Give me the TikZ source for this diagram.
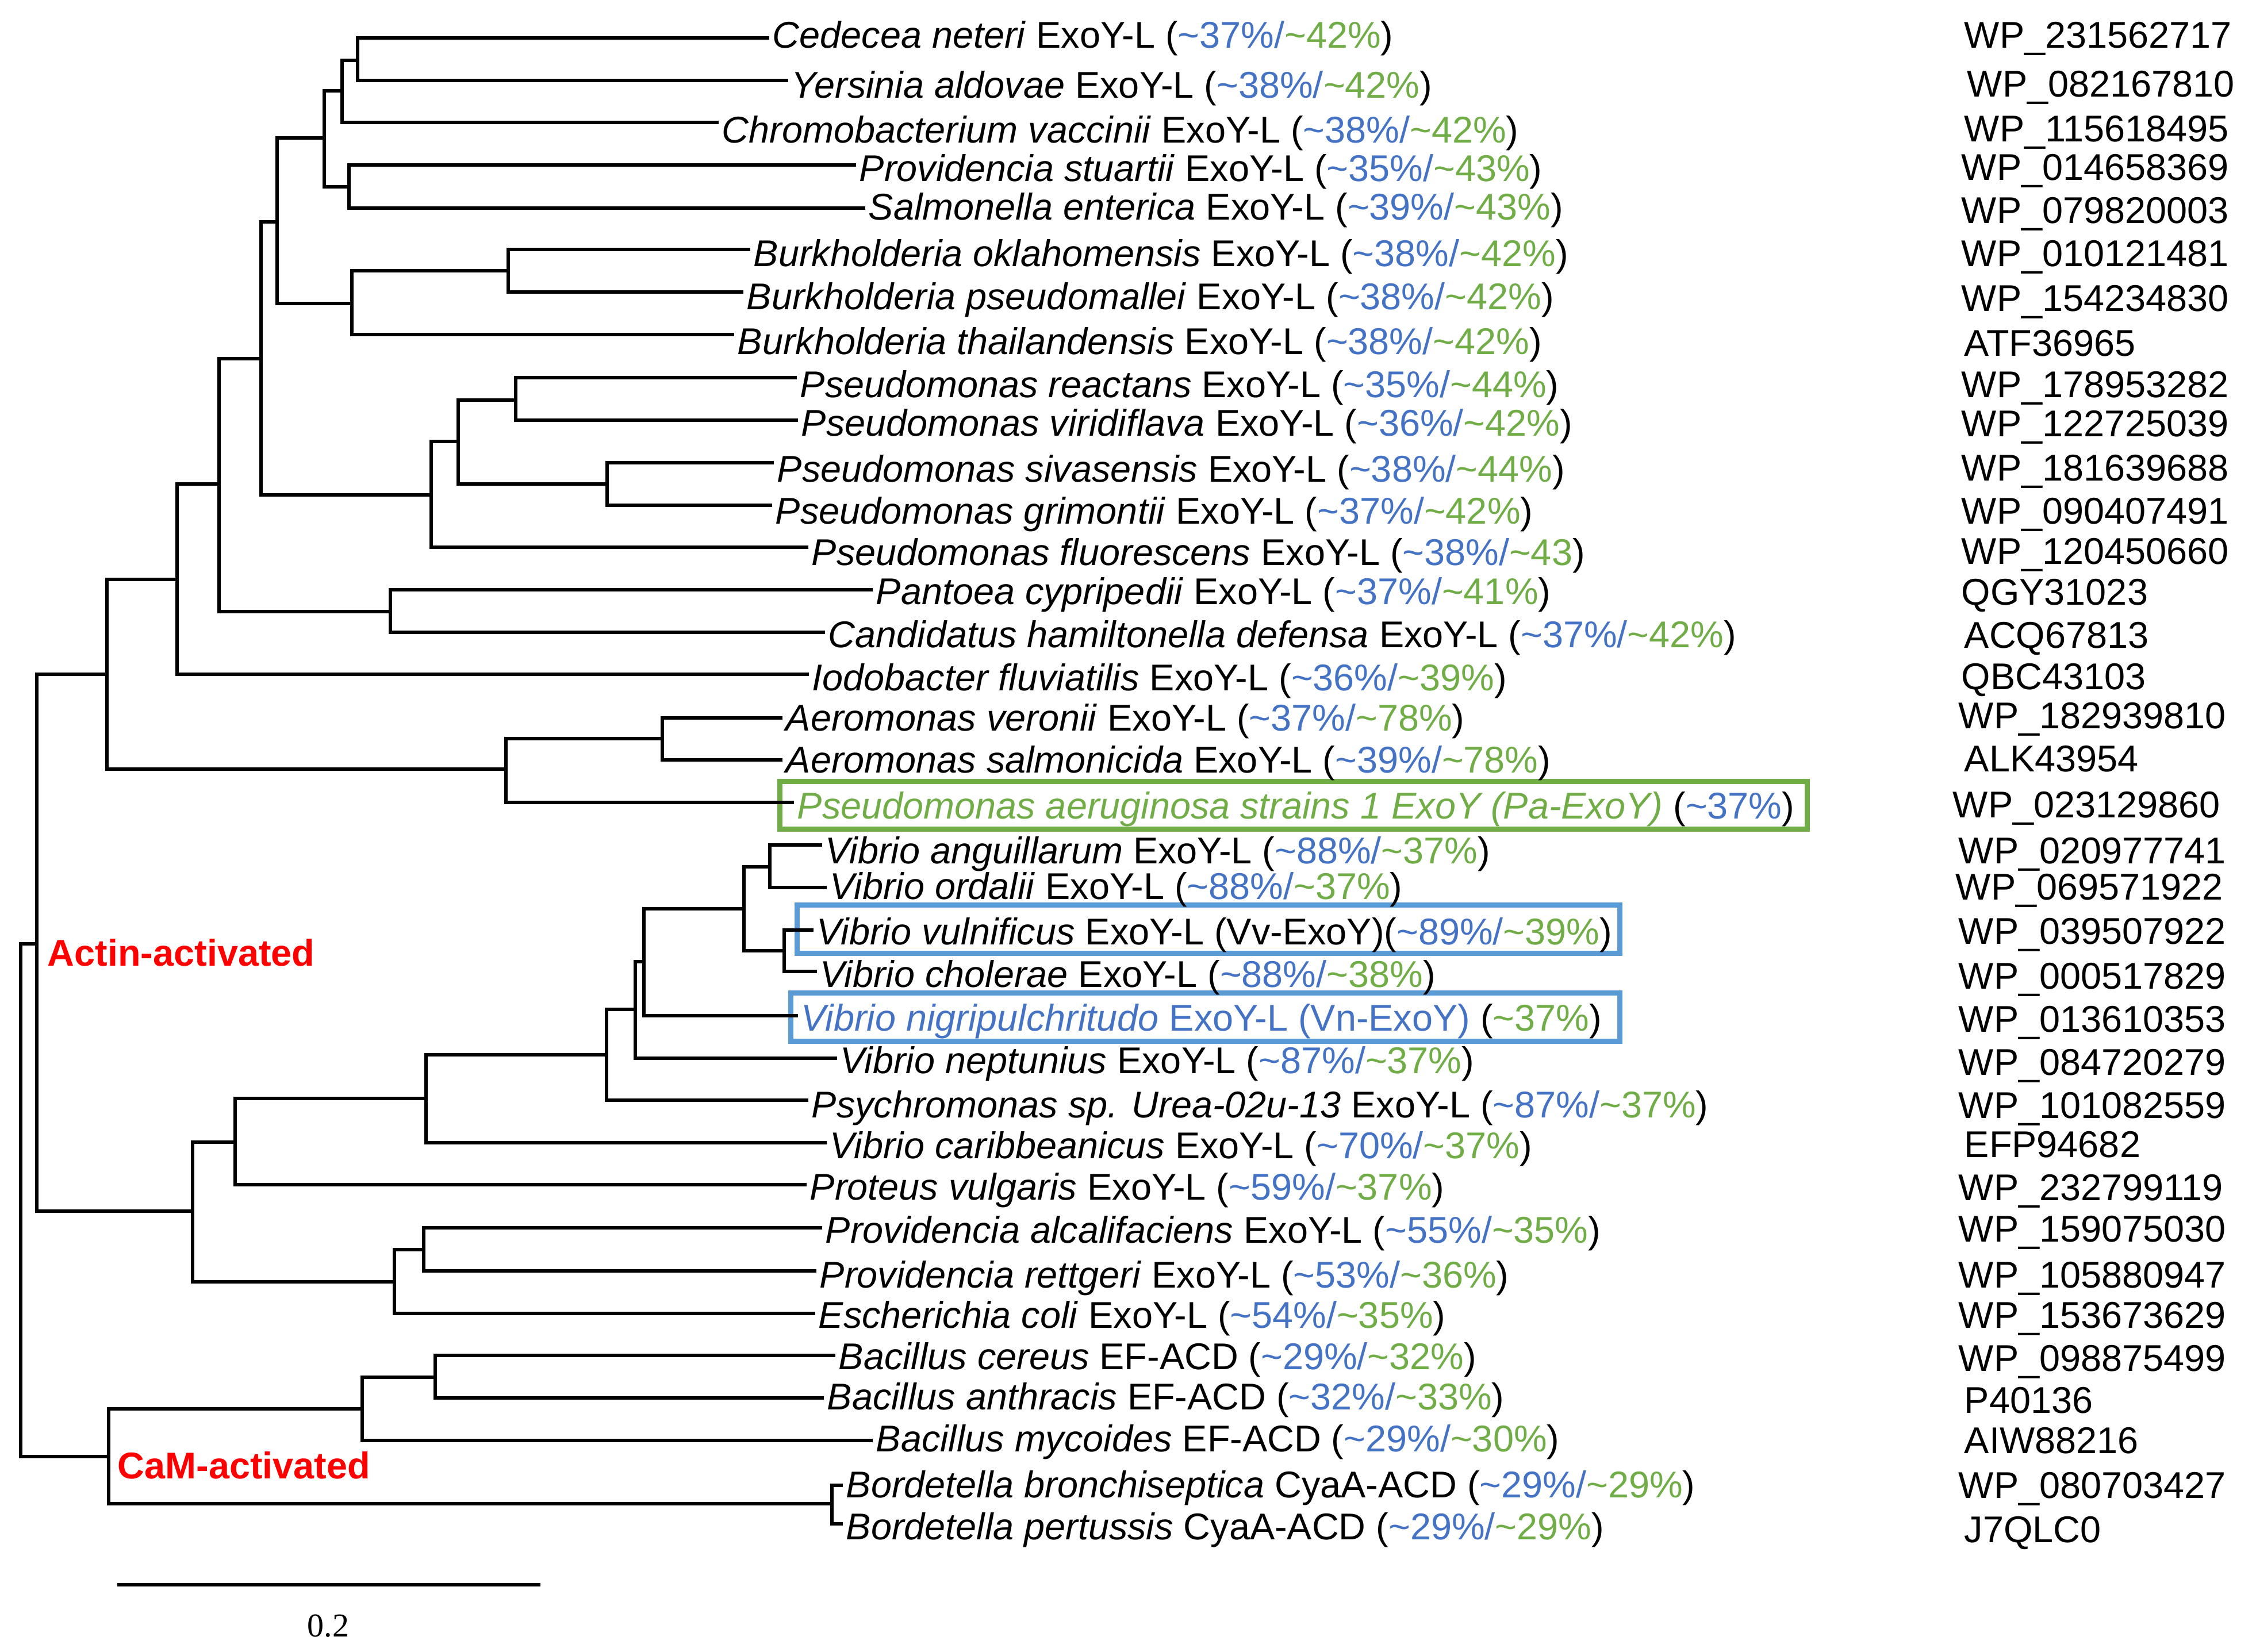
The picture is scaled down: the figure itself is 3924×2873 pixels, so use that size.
\documentclass[tikz,border=0pt]{standalone}
\usepackage{fontspec}
\setmainfont{Liberation Sans}
\newfontfamily\scalefont{Liberation Serif}
\definecolor{pblue}{RGB}{68,114,196}
\definecolor{pgreen}{RGB}{112,173,71}
\definecolor{boxblue}{RGB}{91,155,213}
\definecolor{cladered}{RGB}{255,0,0}
\newcommand{\tl}{\textasciitilde}
\newcommand{\pct}[2]{(\textcolor{pblue}{\tl#1\%/}\textcolor{pgreen}{\tl#2\%})}
\newcommand{\lab}[4]{\textit{#1} #2 \pct{#3}{#4}}
\tikzset{
  br/.style={line width=1.7pt, line cap=rect},
  lab/.style={anchor=base west, inner sep=0pt, xshift=2pt, font=\fontsize{16.2}{18}\selectfont},
  acc/.style={anchor=base west, inner sep=0pt, font=\fontsize{16.2}{18}\selectfont},
  clade/.style={anchor=west, inner sep=0pt, text=cladered, font=\fontsize{16.2}{18}\selectfont\bfseries},
  gbox/.style={draw=pgreen, line width=2.25pt},
  bbox/.style={draw=boxblue, line width=2.25pt},
}
\begin{document}
\begin{tikzpicture}[x=0.25pt,y=-0.25pt]
\useasboundingbox (0,0) rectangle (3924,2873);
% highlight boxes
\draw[gbox] (1356.5,1359.5) rectangle (3143.5,1442.5);
\draw[bbox] (1386.5,1574.5) rectangle (2817.5,1658.5);
\draw[bbox] (1375.5,1727.5) rectangle (2817.5,1811.5);
% leaf end points
\coordinate (l1) at (1335,66);
\coordinate (l2) at (1368,140);
\coordinate (l3) at (1247,213);
\coordinate (l4) at (1486,287);
\coordinate (l5) at (1502,362);
\coordinate (l6) at (1302,434);
\coordinate (l7) at (1290,508);
\coordinate (l8) at (1274,582);
\coordinate (l9) at (1383,657);
\coordinate (l10) at (1385,731);
\coordinate (l11) at (1343,805);
\coordinate (l12) at (1340,879);
\coordinate (l13) at (1403,952);
\coordinate (l14) at (1515,1026);
\coordinate (l15) at (1432,1100);
\coordinate (l16) at (1404,1173);
\coordinate (l17) at (1358,1249);
\coordinate (l18) at (1358,1322);
\coordinate (l19) at (1378,1396);
\coordinate (l20) at (1427,1470);
\coordinate (l21) at (1435,1544);
\coordinate (l22) at (1412,1618);
\coordinate (l23) at (1418,1690);
\coordinate (l24) at (1385,1767);
\coordinate (l25) at (1453,1841);
\coordinate (l26) at (1403,1914);
\coordinate (l27) at (1435,1988);
\coordinate (l28) at (1400,2061);
\coordinate (l29) at (1427,2136);
\coordinate (l30) at (1417,2211);
\coordinate (l31) at (1415,2285);
\coordinate (l32) at (1450,2358);
\coordinate (l33) at (1430,2432);
\coordinate (l34) at (1515,2506);
\coordinate (l35) at (1463,2584);
\coordinate (l36) at (1463,2651);
% internal nodes
\coordinate (nA) at (622,105);
\coordinate (nB) at (595,158);
\coordinate (nC) at (607,325);
\coordinate (nD) at (564,240);
\coordinate (nE) at (884,471);
\coordinate (nF) at (612,528);
\coordinate (nG) at (482,386);
\coordinate (nJ) at (897,696);
\coordinate (nL) at (1056,842);
\coordinate (nK) at (797,768);
\coordinate (nM) at (750,861);
\coordinate (nH) at (454,624);
\coordinate (nN) at (679,1064);
\coordinate (nI) at (381,842);
\coordinate (nO) at (308,1008);
\coordinate (nR) at (1152,1285);
\coordinate (nQ) at (880,1338);
\coordinate (nP) at (186,1173);
\coordinate (nU) at (1339,1508);
\coordinate (nW) at (1364,1654);
\coordinate (nV) at (1294,1581);
\coordinate (nX) at (1120,1673);
\coordinate (nY) at (1105,1756);
\coordinate (nZ) at (1055,1835);
\coordinate (nAA) at (741,1911);
\coordinate (nAB) at (409,1987);
\coordinate (nAD) at (737,2174);
\coordinate (nAC) at (686,2230);
\coordinate (nT) at (335,2107);
\coordinate (nS) at (64,1642);
\coordinate (nAG) at (757,2396);
\coordinate (nAF) at (630,2451);
\coordinate (nBo) at (1447,2616);
\coordinate (nAE) at (189,2534);
\coordinate (root) at (36,2088);
% branches
\foreach \p/\c in {nA/l1,nA/l2,nB/nA,nB/l3,nC/l4,nC/l5,nD/nB,nD/nC,
  nE/l6,nE/l7,nF/nE,nF/l8,nG/nD,nG/nF,nJ/l9,nJ/l10,nL/l11,nL/l12,
  nK/nJ,nK/nL,nM/nK,nM/l13,nH/nG,nH/nM,nN/l14,nN/l15,nI/nH,nI/nN,
  nO/nI,nO/l16,nR/l17,nR/l18,nQ/nR,nQ/l19,nP/nO,nP/nQ,
  nU/l20,nU/l21,nW/l22,nW/l23,nV/nU,nV/nW,nX/nV,nX/l24,nY/nX,nY/l25,
  nZ/nY,nZ/l26,nAA/nZ,nAA/l27,nAB/nAA,nAB/l28,nAD/l29,nAD/l30,
  nAC/nAD,nAC/l31,nT/nAB,nT/nAC,nS/nP,nS/nT,
  nAG/l32,nAG/l33,nAF/nAG,nAF/l34,nBo/l35,nBo/l36,nAE/nAF,nAE/nBo,
  root/nS,root/nAE}
  \draw[br] (\p) |- (\c);
% leaf labels (placed on their own baselines)
\node[lab] (t1) at (l1 |- 0,83) {\lab{Cedecea neteri}{ExoY-L}{37}{42}};
\node[lab] (t2) at (l2 |- 0,170) {\lab{Yersinia aldovae}{ExoY-L}{38}{42}};
\node[lab] (t3) at (l3 |- 0,248) {\lab{Chromobacterium vaccinii}{ExoY-L}{38}{42}};
\node[lab] (t4) at (l4 |- 0,315) {\lab{Providencia stuartii}{ExoY-L}{35}{43}};
\node[lab] (t5) at (l5 |- 0,382) {\lab{Salmonella enterica}{ExoY-L}{39}{43}};
\node[lab] (t6) at (l6 |- 0,463) {\lab{Burkholderia oklahomensis}{ExoY-L}{38}{42}};
\node[lab] (t7) at (l7 |- 0,538) {\lab{Burkholderia pseudomallei}{ExoY-L}{38}{42}};
\node[lab] (t8) at (l8 |- 0,616) {\lab{Burkholderia thailandensis}{ExoY-L}{38}{42}};
\node[lab] (t9) at (l9 |- 0,691) {\lab{Pseudomonas reactans}{ExoY-L}{35}{44}};
\node[lab] (t10) at (l10 |- 0,758) {\lab{Pseudomonas viridiflava}{ExoY-L}{36}{42}};
\node[lab] (t11) at (l11 |- 0,838) {\lab{Pseudomonas sivasensis}{ExoY-L}{38}{44}};
\node[lab] (t12) at (l12 |- 0,911) {\lab{Pseudomonas grimontii}{ExoY-L}{37}{42}};
\node[lab] (t13) at (l13 |- 0,983) {\textit{Pseudomonas fluorescens} ExoY-L (\textcolor{pblue}{\tl38\%/}\textcolor{pgreen}{\tl43})};
\node[lab] (t14) at (l14 |- 0,1051) {\lab{Pantoea cypripedii}{ExoY-L}{37}{41}};
\node[lab] (t15) at (l15 |- 0,1126) {\lab{Candidatus hamiltonella defensa}{ExoY-L}{37}{42}};
\node[lab] (t16) at (l16 |- 0,1201) {\lab{Iodobacter fluviatilis}{ExoY-L}{36}{39}};
\node[lab] (t17) at (l17 |- 0,1271) {\lab{Aeromonas veronii}{ExoY-L}{37}{78}};
\node[lab] (t18) at (l18 |- 0,1344) {\lab{Aeromonas salmonicida}{ExoY-L}{39}{78}};
\node[lab] (t19) at (l19 |- 0,1424) {\textcolor{pgreen}{\textit{Pseudomonas aeruginosa strains 1 ExoY (Pa-ExoY)}} (\textcolor{pblue}{\tl37\%})};
\node[lab] (t20) at (l20 |- 0,1502) {\lab{Vibrio anguillarum}{ExoY-L}{88}{37}};
\node[lab] (t21) at (l21 |- 0,1564) {\lab{Vibrio ordalii}{ExoY-L}{88}{37}};
\node[lab] (t22) at (l22 |- 0,1643) {\textit{Vibrio vulnificus} ExoY-L (Vv-ExoY)\pct{89}{39}};
\node[lab] (t23) at (l23 |- 0,1717) {\lab{Vibrio cholerae}{ExoY-L}{88}{38}};
\node[lab] (t24) at (l24 |- 0,1793) {\textcolor{pblue}{\textit{Vibrio nigripulchritudo} ExoY-L (Vn-ExoY)} (\textcolor{pgreen}{\tl37\%})};
\node[lab] (t25) at (l25 |- 0,1867) {\lab{Vibrio neptunius}{ExoY-L}{87}{37}};
\node[lab] (t26) at (l26 |- 0,1944) {\lab{Psychromonas sp. Urea-02u-13}{ExoY-L}{87}{37}};
\node[lab] (t27) at (l27 |- 0,2015) {\lab{Vibrio caribbeanicus}{ExoY-L}{70}{37}};
\node[lab] (t28) at (l28 |- 0,2087) {\lab{Proteus vulgaris}{ExoY-L}{59}{37}};
\node[lab] (t29) at (l29 |- 0,2162) {\lab{Providencia alcalifaciens}{ExoY-L}{55}{35}};
\node[lab] (t30) at (l30 |- 0,2240) {\lab{Providencia rettgeri}{ExoY-L}{53}{36}};
\node[lab] (t31) at (l31 |- 0,2310) {\lab{Escherichia coli}{ExoY-L}{54}{35}};
\node[lab] (t32) at (l32 |- 0,2382) {\lab{Bacillus cereus}{EF-ACD}{29}{32}};
\node[lab] (t33) at (l33 |- 0,2452) {\lab{Bacillus anthracis}{EF-ACD}{32}{33}};
\node[lab] (t34) at (l34 |- 0,2525) {\lab{Bacillus mycoides}{EF-ACD}{29}{30}};
\node[lab] (t35) at (l35 |- 0,2605) {\lab{Bordetella bronchiseptica}{CyaA-ACD}{29}{29}};
\node[lab] (t36) at (l36 |- 0,2678) {\lab{Bordetella pertussis}{CyaA-ACD}{29}{29}};
% accession numbers
\node[acc] (a1) at (3416,83) {WP\_231562717};
\node[acc] (a2) at (3421,168) {WP\_082167810};
\node[acc] (a3) at (3416,246) {WP\_115618495};
\node[acc] (a4) at (3411,313) {WP\_014658369};
\node[acc] (a5) at (3411,388) {WP\_079820003};
\node[acc] (a6) at (3411,463) {WP\_010121481};
\node[acc] (a7) at (3411,541) {WP\_154234830};
\node[acc] (a8) at (3416,619) {ATF36965};
\node[acc] (a9) at (3411,691) {WP\_178953282};
\node[acc] (a10) at (3411,759) {WP\_122725039};
\node[acc] (a11) at (3411,836) {WP\_181639688};
\node[acc] (a12) at (3411,911) {WP\_090407491};
\node[acc] (a13) at (3411,981) {WP\_120450660};
\node[acc] (a14) at (3411,1052) {QGY31023};
\node[acc] (a15) at (3416,1127) {ACQ67813};
\node[acc] (a16) at (3411,1199) {QBC43103};
\node[acc] (a17) at (3406,1267) {WP\_182939810};
\node[acc] (a18) at (3416,1342) {ALK43954};
\node[acc] (a19) at (3396,1422) {WP\_023129860};
\node[acc] (a20) at (3406,1502) {WP\_020977741};
\node[acc] (a21) at (3401,1565) {WP\_069571922};
\node[acc] (a22) at (3406,1642) {WP\_039507922};
\node[acc] (a23) at (3406,1720) {WP\_000517829};
\node[acc] (a24) at (3406,1795) {WP\_013610353};
\node[acc] (a25) at (3406,1870) {WP\_084720279};
\node[acc] (a26) at (3406,1945) {WP\_101082559};
\node[acc] (a27) at (3416,2013) {EFP94682};
\node[acc] (a28) at (3406,2088) {WP\_232799119};
\node[acc] (a29) at (3406,2160) {WP\_159075030};
\node[acc] (a30) at (3406,2240) {WP\_105880947};
\node[acc] (a31) at (3406,2310) {WP\_153673629};
\node[acc] (a32) at (3406,2385) {WP\_098875499};
\node[acc] (a33) at (3416,2458) {P40136};
\node[acc] (a34) at (3416,2528) {AIW88216};
\node[acc] (a35) at (3406,2606) {WP\_080703427};
\node[acc] (a36) at (3416,2683) {J7QLC0};
% clade labels
\node[clade] (actin) at (82,1657) {Actin-activated};
\node[clade] (cam) at (204,2549) {CaM-activated};
% scale bar
\coordinate (sb1) at (207,2757);
\coordinate (sb2) at (937,2757);
\draw[br] (sb1) -- (sb2);
\node[inner sep=0pt, font=\fontsize{14.5}{16}\selectfont\scalefont] (sbl) at (571,2829) {0.2};
\end{tikzpicture}
\end{document}
